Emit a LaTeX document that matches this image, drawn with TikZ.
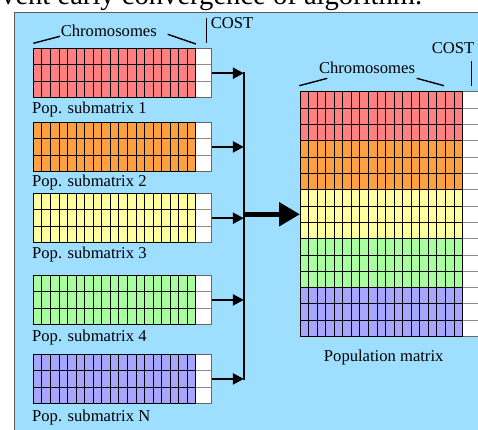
\documentclass[tikz,border=0pt]{standalone}
\usepackage{fontspec}
\setmainfont{Liberation Serif}
\usetikzlibrary{arrows.meta}

\definecolor{panelbg}{RGB}{158,222,255}
\definecolor{rowred}{RGB}{255,128,128}
\definecolor{roworange}{RGB}{255,160,64}
\definecolor{rowyellow}{RGB}{255,255,160}
\definecolor{rowgreen}{RGB}{168,255,160}
\definecolor{rowblue}{RGB}{166,166,255}

% cell width, cost column width, total matrix width
\def\cw{8.55}
\def\cc{15.8}
\def\totw{178.25}

\tikzset{
  gridv/.style={line width=0.8pt, black},
  gridh/.style={line width=0.8pt, black},
  costh/.style={line width=0.8pt, black!45},
  matframe/.style={line width=1pt, black},
  costframe/.style={line width=1pt, black!60},
  feed/.style={line width=2.4pt, -{Triangle[length=11pt,width=11pt]}},
  busline/.style={line width=2.6pt, line cap=rect},
  merge/.style={line width=5.5pt, -{Triangle[length=21pt,width=23pt]}},
  lbl/.style={font=\fontsize{16.6}{19}\selectfont, inner sep=0pt},
  tick/.style={line width=1.4pt},
  panelframe/.style={line width=1pt, black!65},
}

% fill rows: left, top, row height, first row, number of rows, colour
\newcommand\fillrows[6]{%
  \fill[#6] (#1,#2+#4*#3) rectangle (#1+19*\cw,#2+#4*#3+#5*#3);
  \fill[white] (#1+19*\cw,#2+#4*#3) rectangle (#1+\totw,#2+#4*#3+#5*#3);
}

% grid lines and frames: left, top, rows, row height
\newcommand\matgrid[4]{%
  \pgfmathsetmacro\matbot{#2+#3*#4}
  \foreach \i in {1,...,19}
    \draw[gridv] (#1+\i*\cw,#2) -- (#1+\i*\cw,\matbot);
  \pgfmathtruncatemacro\lastrow{#3-1}
  \foreach \j in {1,...,\lastrow}{
    \draw[gridh] (#1,#2+\j*#4) -- (#1+19*\cw,#2+\j*#4);
    \draw[costh] (#1+19*\cw,#2+\j*#4) -- (#1+\totw,#2+\j*#4);
  }
  \draw[costframe] (#1+19*\cw,#2) rectangle (#1+\totw,\matbot);
  \draw[matframe] (#1,#2) rectangle (#1+19*\cw,\matbot);
}

% one population submatrix: name, top, colour
\newcommand\submat[3]{%
  \fillrows{33.3}{#2}{16.47}{0}{3}{#3}
  \matgrid{33.3}{#2}{3}{16.47}
  \node[inner sep=0pt, minimum width=\totw pt, minimum height=49.41pt,
        anchor=north west] (#1) at (33.3,#2) {};
}

\begin{document}
\begin{tikzpicture}[x=1pt, y=-1pt]
  \useasboundingbox (0,0) rectangle (478,429);

  % caption line running above the panel
  \node[anchor=base west, inner sep=0pt, font=\fontsize{28.6}{31}\selectfont]
    (head) at (1,4.5) {vent early convergence of algorithm.};

  % panel
  \fill[panelbg] (14,12) rectangle (482,433);
  \draw[panelframe] (14,433) -- (14,12) -- (482,12);

  % submatrices
  \submat{s1}{48.3}{rowred}
  \submat{s2}{122}{roworange}
  \submat{s3}{193.3}{rowyellow}
  \submat{s4}{275}{rowgreen}
  \submat{s5}{354}{rowblue}

  \node[lbl, anchor=base west] (l1) at (32,113.3) {Pop. submatrix 1};
  \node[lbl, anchor=base west] (l2) at (32,186) {Pop. submatrix 2};
  \node[lbl, anchor=base west] (l3) at (32,258.7) {Pop. submatrix 3};
  \node[lbl, anchor=base west] (l4) at (32,341.7) {Pop. submatrix 4};
  \node[lbl, anchor=base west] (l5) at (32,421.7) {Pop. submatrix N};

  % headings over the first submatrix
  \node[lbl, anchor=base] (chr1) at (108.8,36.6) {Chromosomes};
  \draw[tick] (33.3,43.3) -- (60,36.3);
  \draw[tick] (167.7,34.3) -- (196,44);
  \node[lbl, anchor=base west] (cost1) at (210.7,28) {COST};
  \draw[tick] (206.7,18.3) -- (206.7,43.3);

  % population matrix
  \fillrows{300}{91.7}{16.32}{0}{3}{rowred}
  \fillrows{300}{91.7}{16.32}{3}{3}{roworange}
  \fillrows{300}{91.7}{16.32}{6}{3}{rowyellow}
  \fillrows{300}{91.7}{16.32}{9}{3}{rowgreen}
  \fillrows{300}{91.7}{16.32}{12}{3}{rowblue}
  \matgrid{300}{91.7}{15}{16.32}
  \node[inner sep=0pt, minimum width=\totw pt, minimum height=244.8pt,
        anchor=north west] (pm) at (300,91.7) {};

  \node[lbl, anchor=base] (chr2) at (367,73.3) {Chromosomes};
  \draw[tick] (299.3,85.7) -- (327.3,78.3);
  \draw[tick] (416.7,78.3) -- (444,85.7);
  \node[lbl, anchor=base west] (cost2) at (431.7,53.3) {COST};
  \draw[tick] (471.7,61) -- (471.7,85.7);

  \node[lbl, anchor=base] (pmlbl) at (383.7,361.7) {Population matrix};

  % collecting bus and arrows
  \coordinate (bus) at (243.8,0);
  \draw[busline] (s1.east -| bus) -- (s5.east -| bus);
  \foreach \s in {s1,s2,s3,s4,s5}
    \draw[feed] (\s.east) -- (\s.east -| bus);
  \draw[merge] (pm.west -| bus) -- (pm.west);
\end{tikzpicture}
\end{document}
